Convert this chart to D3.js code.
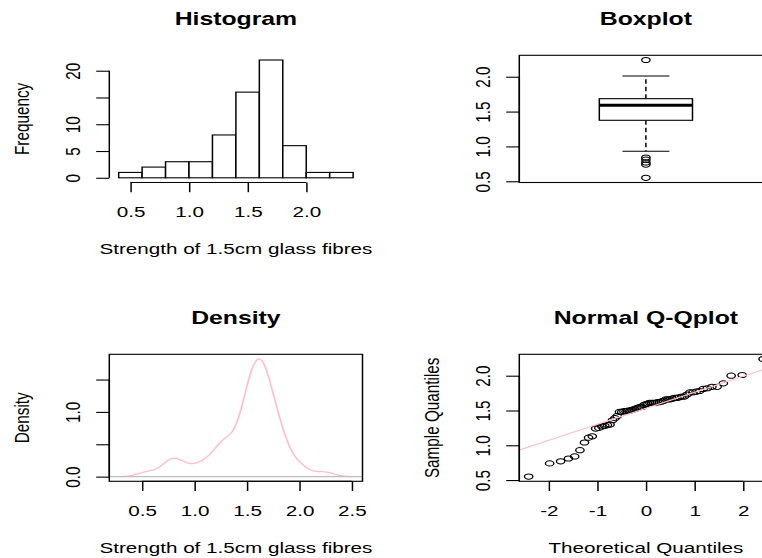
<!DOCTYPE html>
<html>
<head>
<meta charset="utf-8">
<script src="https://cdn.jsdelivr.net/npm/d3@7"></script>
<style>
  html, body { margin: 0; padding: 0; background: #fff; overflow: hidden; }
  text { font-family: "Liberation Sans", Arial, sans-serif; fill: #000; }
</style>
</head>
<body>
<svg id="chart" width="762" height="558"></svg>
<script>
// strength of 1.5cm glass fibres, n = 63
const strength = [0.55, 0.74, 0.77, 0.81, 0.84, 0.93, 1.04, 1.11, 1.13, 1.24, 1.25, 1.27, 1.28, 1.29,
  1.30, 1.36, 1.39, 1.42, 1.48, 1.48, 1.49, 1.49, 1.50, 1.50, 1.51, 1.52, 1.53, 1.54, 1.55, 1.55,
  1.58, 1.59, 1.60, 1.61, 1.61, 1.61, 1.61, 1.62, 1.62, 1.63, 1.64, 1.66, 1.66, 1.66, 1.67, 1.68,
  1.68, 1.69, 1.70, 1.70, 1.73, 1.76, 1.76, 1.77, 1.78, 1.81, 1.82, 1.84, 1.84, 1.89, 2.00, 2.01, 2.24];

const histBreaks = [0.4, 0.6, 0.8, 1.0, 1.2, 1.4, 1.6, 1.8, 2.0, 2.2, 2.4];
const histCounts = [1, 2, 3, 3, 8, 16, 22, 6, 1, 1];
const histTicksX = [0.5, 1.0, 1.5, 2.0];
const histTicksY = [0, 5, 10, 15, 20];
const histLabelsY = ['0', '5', '10', '', '20'];

// lower whisker, lower hinge, median, upper hinge, upper whisker
const boxStats = [0.93, 1.375, 1.59, 1.685, 2.01];
const boxOutliers = [0.55, 0.74, 0.77, 0.81, 0.84, 2.24];
const boxTicksY = [0.5, 1.0, 1.5, 2.0];

const densTicksX = [0.5, 1.0, 1.5, 2.0, 2.5];
const densTicksY = [0, 0.5, 1.0, 1.5];
const densLabelsY = ['0.0', '', '1.0', ''];

const qqTicksX = [-2, -1, 0, 1, 2];
const qqTicksY = [0.5, 1.0, 1.5, 2.0];

const XLAB = 'Strength of 1.5cm glass fibres';

// the picture is stretched sideways; draw in "device" units and scale x
const S = 1.35;
const px = v => v / S;
const TICK = 9.7;
const FONT = 15.3;
const PINK = '#ffc0cb';

const COLS = [[109.3, 362.5], [519.3, 772.5]].map(c => c.map(px));
const ROWS = [[55.3, 182.5], [354.3, 481.3]];

const svg = d3.select('#chart');
const root = svg.append('g').attr('transform', `scale(${S},1)`);

const extend = ([lo, hi]) => [lo - 0.04 * (hi - lo), hi + 0.04 * (hi - lo)];

function qnorm(p) {
  const a = [-3.969683028665376e+01, 2.209460984245205e+02, -2.759285104469687e+02, 1.383577518672690e+02, -3.066479806614716e+01, 2.506628277459239e+00];
  const b = [-5.447609879822406e+01, 1.615858368580409e+02, -1.556989798598866e+02, 6.680131188771972e+01, -1.328068155288572e+01];
  const c = [-7.784894002430293e-03, -3.223964580411365e-01, -2.400758277161838e+00, -2.549732539343734e+00, 4.374664141464968e+00, 2.938163982698783e+00];
  const d = [7.784695709041462e-03, 3.224671290700398e-01, 2.445134137142996e+00, 3.754408661907416e+00];
  const pl = 0.02425;
  if (p < pl || p > 1 - pl) {
    const q = Math.sqrt(-2 * Math.log(p < pl ? p : 1 - p));
    const v = (((((c[0] * q + c[1]) * q + c[2]) * q + c[3]) * q + c[4]) * q + c[5]) /
      ((((d[0] * q + d[1]) * q + d[2]) * q + d[3]) * q + 1);
    return p < pl ? v : -v;
  }
  const q = p - 0.5, r = q * q;
  return (((((a[0] * r + a[1]) * r + a[2]) * r + a[3]) * r + a[4]) * r + a[5]) * q /
    (((((b[0] * r + b[1]) * r + b[2]) * r + b[3]) * r + b[4]) * r + 1);
}

function panel(col, row) {
  const [x0, x1] = COLS[col];
  const [y0, y1] = ROWS[row];
  return { g: root.append('g'), x0, x1, y0, y1 };
}

function frame(p) {
  p.g.append('rect')
    .attr('x', p.x0).attr('y', p.y0)
    .attr('width', p.x1 - p.x0).attr('height', p.y1 - p.y0)
    .attr('fill', 'none').attr('stroke', '#000').attr('stroke-width', 1.1);
}

function titles(p, main, xlab, ylab) {
  const cx = (p.x0 + p.x1) / 2;
  p.g.append('text').attr('x', cx).attr('y', p.y0 - 30.3)
    .attr('text-anchor', 'middle').attr('font-weight', 'bold')
    .attr('font-size', FONT * 1.2).text(main);
  if (xlab) {
    p.g.append('text').attr('x', cx).attr('y', p.y1 + 72)
      .attr('text-anchor', 'middle').attr('font-size', FONT).text(xlab);
  }
  if (ylab) {
    p.g.append('text')
      .attr('transform', `translate(${p.x0 - px(80.5)},${(p.y0 + p.y1) / 2}) rotate(-90)`)
      .attr('text-anchor', 'middle').attr('font-size', FONT).text(ylab);
  }
}

function axisBottom(p, scale, ticks, labels) {
  const ax = p.g.append('g').attr('transform', `translate(0,${p.y1})`)
    .call(d3.axisBottom(scale).tickValues(ticks).tickSize(TICK).tickSizeOuter(0)
      .tickFormat((d, i) => labels ? labels[i] : String(d)));
  ax.attr('font-family', null).attr('font-size', null);
  ax.select('.domain').remove();
  ax.append('line')
    .attr('x1', scale(ticks[0])).attr('x2', scale(ticks[ticks.length - 1]))
    .attr('stroke', '#000').attr('stroke-width', 1.1);
  ax.selectAll('.tick line').attr('stroke-width', 1.1);
  ax.selectAll('.tick text').attr('y', 35).attr('dy', null)
    .attr('font-size', FONT).attr('fill', '#000');
}

function axisLeft(p, scale, ticks, labels) {
  const ax = p.g.append('g').attr('transform', `translate(${p.x0},0)`)
    .call(d3.axisLeft(scale).tickValues(ticks).tickSize(TICK).tickSizeOuter(0)
      .tickFormat((d, i) => labels ? labels[i] : d3.format('.1f')(d)));
  ax.attr('font-family', null).attr('font-size', null);
  ax.select('.domain').remove();
  ax.append('line')
    .attr('y1', scale(ticks[0])).attr('y2', scale(ticks[ticks.length - 1]))
    .attr('stroke', '#000').attr('stroke-width', 1.1);
  ax.selectAll('.tick line').attr('stroke-width', 1.1);
  ax.selectAll('.tick text')
    .attr('x', 0).attr('dy', null)
    .attr('transform', `translate(${-px(29.5)},0) rotate(-90)`)
    .attr('text-anchor', 'middle')
    .attr('font-size', FONT).attr('fill', '#000');
}

// open circles (pch = 1)
function circles(g, data, fx, fy) {
  g.selectAll(null).data(data).join('ellipse')
    .attr('cx', fx).attr('cy', fy).attr('rx', 3.1).attr('ry', 2.6)
    .attr('fill', 'none').attr('stroke', '#000').attr('stroke-width', 1);
}

// ---- Histogram
{
  const p = panel(0, 0);
  const x = d3.scaleLinear().domain(extend(d3.extent(histBreaks))).range([p.x0, p.x1]);
  const y = d3.scaleLinear().domain(extend([0, d3.max(histCounts)])).range([p.y1, p.y0]);
  p.g.selectAll('rect.bar').data(histCounts).join('rect')
    .attr('class', 'bar')
    .attr('x', (d, i) => x(histBreaks[i]))
    .attr('width', (d, i) => x(histBreaks[i + 1]) - x(histBreaks[i]))
    .attr('y', d => y(d))
    .attr('height', d => y(0) - y(d))
    .attr('fill', '#fff').attr('stroke', '#000').attr('stroke-width', 1.1);
  axisBottom(p, x, histTicksX, histTicksX.map(d3.format('.1f')));
  axisLeft(p, y, histTicksY, histLabelsY);
  titles(p, 'Histogram', XLAB, 'Frequency');
}

// ---- Boxplot
{
  const p = panel(1, 0);
  const x = d3.scaleLinear().domain([0.5, 1.5]).range([p.x0, p.x1]);
  const y = d3.scaleLinear().domain(extend(d3.extent(strength))).range([p.y1, p.y0]);
  const [lw, q1, med, q3, uw] = boxStats;
  const bh = 0.184, sh = 0.0928;
  const line = (xa, ya, xb, yb) => p.g.append('line')
    .attr('x1', xa).attr('y1', ya).attr('x2', xb).attr('y2', yb)
    .attr('stroke', '#000').attr('stroke-width', 1.1);
  line(x(1), y(q3), x(1), y(uw)).attr('stroke-dasharray', '4.5,3');
  line(x(1), y(q1), x(1), y(lw)).attr('stroke-dasharray', '4.5,3');
  line(x(1 - sh), y(uw), x(1 + sh), y(uw));
  line(x(1 - sh), y(lw), x(1 + sh), y(lw));
  p.g.append('rect')
    .attr('x', x(1 - bh)).attr('width', x(1 + bh) - x(1 - bh))
    .attr('y', y(q3)).attr('height', y(q1) - y(q3))
    .attr('fill', '#fff').attr('stroke', '#000').attr('stroke-width', 1.1);
  line(x(1 - bh), y(med), x(1 + bh), y(med)).attr('stroke-width', 3);
  circles(p.g, boxOutliers, () => x(1), d => y(d));
  frame(p);
  axisLeft(p, y, boxTicksY);
  titles(p, 'Boxplot');
}

// ---- Density (gaussian kernel, bw.nrd0)
{
  const p = panel(0, 1);
  const n = strength.length;
  const iqr = d3.quantile(strength, 0.75) - d3.quantile(strength, 0.25);
  const bw = 0.9 * Math.min(d3.deviation(strength), iqr / 1.34) * Math.pow(n, -0.2);
  const [lo, hi] = d3.extent(strength);
  const grid = d3.range(512).map(i => lo - 3 * bw + i * ((hi - lo + 6 * bw) / 511));
  const dens = grid.map(g => d3.sum(strength, v => Math.exp(-0.5 * ((g - v) / bw) ** 2)) /
    (n * bw * Math.sqrt(2 * Math.PI)));
  const x = d3.scaleLinear().domain(extend(d3.extent(grid))).range([p.x0, p.x1]);
  const y = d3.scaleLinear().domain(extend(d3.extent(dens))).range([p.y1, p.y0]);
  p.g.append('path')
    .datum(grid.map((g, i) => [g, dens[i]]))
    .attr('d', d3.line().x(d => x(d[0])).y(d => y(d[1])))
    .attr('fill', 'none').attr('stroke', PINK).attr('stroke-width', 1.3);
  // zero line drawn over the curve
  p.g.append('line')
    .attr('x1', p.x0).attr('x2', p.x1).attr('y1', y(0)).attr('y2', y(0))
    .attr('stroke', '#bebebe').attr('stroke-width', 1.3);
  frame(p);
  axisBottom(p, x, densTicksX, densTicksX.map(d3.format('.1f')));
  axisLeft(p, y, densTicksY, densLabelsY);
  titles(p, 'Density', XLAB, 'Density');
}

// ---- Normal Q-Q plot
{
  const p = panel(1, 1);
  const n = strength.length;
  const sample = strength.slice().sort(d3.ascending);
  const theo = sample.map((v, i) => qnorm((i + 1 - 0.5) / n));
  const x = d3.scaleLinear().domain(extend(d3.extent(theo))).range([p.x0, p.x1]);
  const y = d3.scaleLinear().domain(extend(d3.extent(sample))).range([p.y1, p.y0]);
  circles(p.g, sample, (d, i) => x(theo[i]), d => y(d));
  const yq = [d3.quantile(sample, 0.25), d3.quantile(sample, 0.75)];
  const xq = [qnorm(0.25), qnorm(0.75)];
  const slope = (yq[1] - yq[0]) / (xq[1] - xq[0]);
  const icpt = yq[0] - slope * xq[0];
  const [dx0, dx1] = x.domain();
  p.g.append('line')
    .attr('x1', x(dx0)).attr('y1', y(icpt + slope * dx0))
    .attr('x2', x(dx1)).attr('y2', y(icpt + slope * dx1))
    .attr('stroke', PINK).attr('stroke-width', 1.1);
  frame(p);
  axisBottom(p, x, qqTicksX, qqTicksX.map(String));
  axisLeft(p, y, qqTicksY);
  titles(p, 'Normal Q-Qplot', 'Theoretical Quantiles', 'Sample Quantiles');
}
</script>
</body>
</html>
